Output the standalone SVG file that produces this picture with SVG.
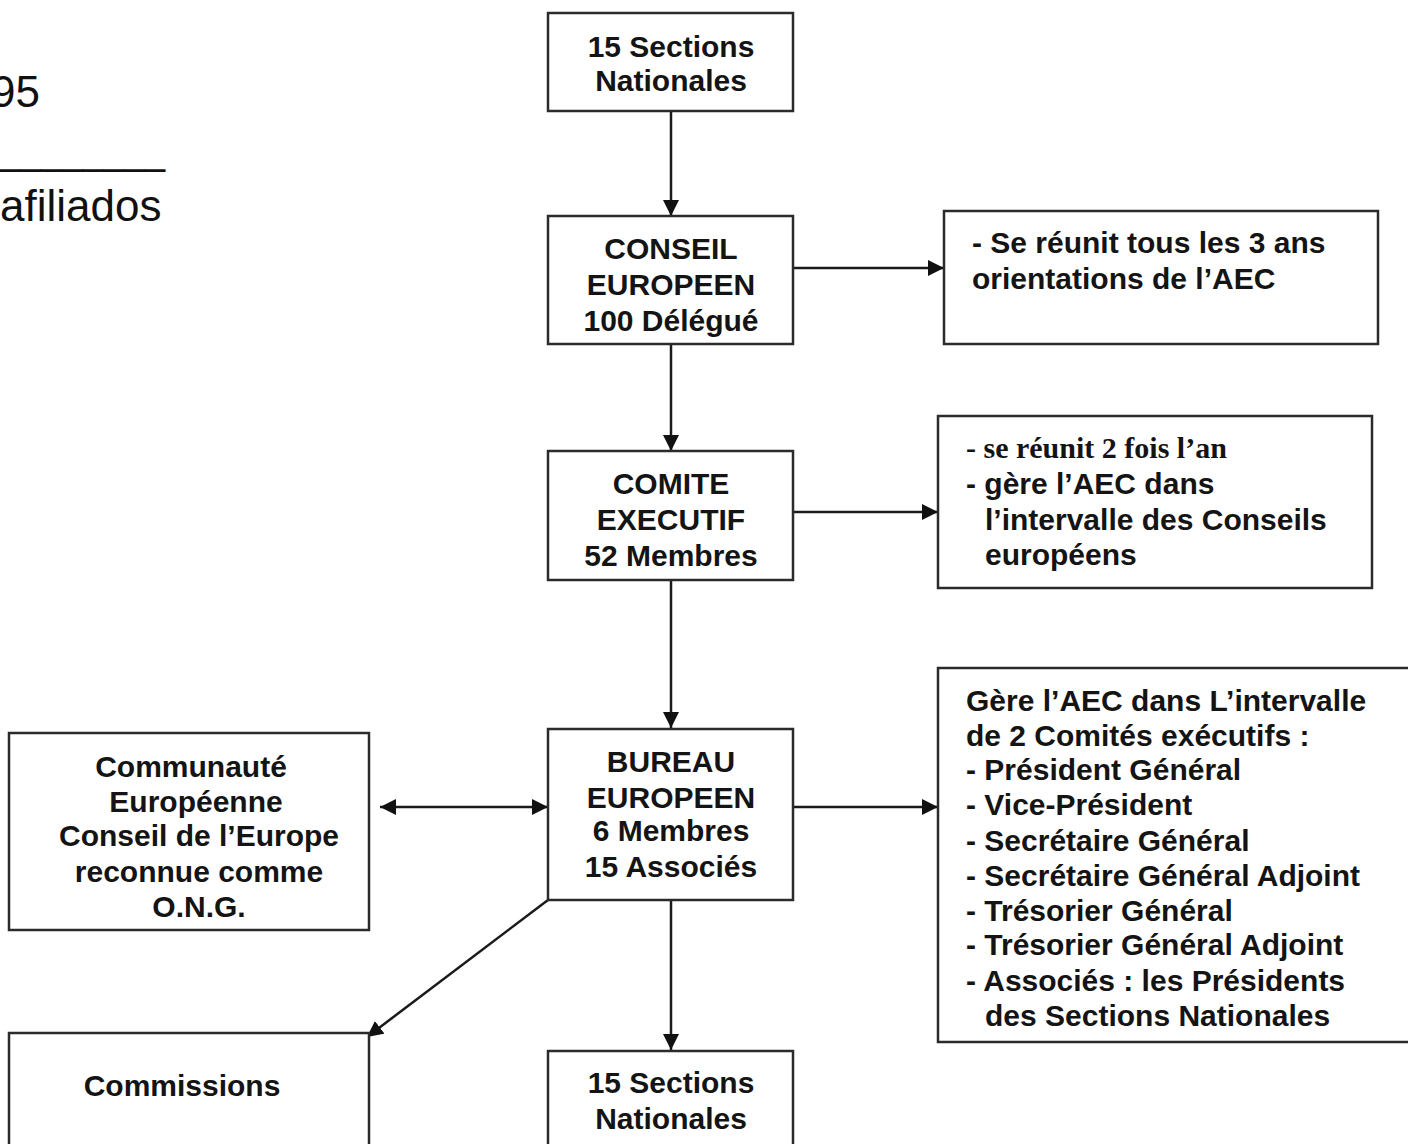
<svg xmlns="http://www.w3.org/2000/svg" width="1408" height="1144" viewBox="0 0 1408 1144">
<defs>
<style>
.box{fill:#fff;stroke:#2b2b2b;stroke-width:2.5}
.t{font-family:"Liberation Sans",Arial,sans-serif;font-weight:bold;font-size:30px;fill:#141414}
.c{text-anchor:middle}
.tr{font-family:"Liberation Serif","Times New Roman",serif;font-weight:bold;font-size:30px;fill:#141414}
.side{font-family:"Liberation Sans",Arial,sans-serif;font-size:44px;fill:#111}
.conn{stroke:#1a1a1a;stroke-width:2.5;fill:none}
</style>
<marker id="ah" viewBox="0 0 16 16" refX="16" refY="8" markerWidth="16" markerHeight="16" markerUnits="userSpaceOnUse" orient="auto-start-reverse">
<path d="M0,0 L16,8 L0,16 Z" fill="#111"/>
</marker>
</defs>
<rect width="1408" height="1144" fill="#fff"/>

<g id="side-text">
<text class="side" x="40" y="107" text-anchor="end" font-size="40">95</text>
<text class="side" x="0" y="163" textLength="165" lengthAdjust="spacingAndGlyphs">________</text>
<text class="side" x="0" y="221">afiliados</text>
</g>

<g id="connectors">
<line class="conn" x1="671" y1="111" x2="671" y2="216" marker-end="url(#ah)"/>
<line class="conn" x1="671" y1="344" x2="671" y2="451" marker-end="url(#ah)"/>
<line class="conn" x1="671" y1="580" x2="671" y2="728" marker-end="url(#ah)"/>
<line class="conn" x1="671" y1="900" x2="671" y2="1050" marker-end="url(#ah)"/>
<line class="conn" x1="793" y1="268" x2="944" y2="268" marker-end="url(#ah)"/>
<line class="conn" x1="793" y1="512" x2="938" y2="512" marker-end="url(#ah)"/>
<line class="conn" x1="793" y1="807" x2="938" y2="807" marker-end="url(#ah)"/>
<line class="conn" x1="380" y1="807" x2="548" y2="807" marker-start="url(#ah)" marker-end="url(#ah)"/>
<line class="conn" x1="548" y1="900" x2="367" y2="1037" marker-end="url(#ah)"/>
</g>

<g id="n-sections-top">
<rect class="box" x="548" y="13" width="245" height="98"/>
<text class="t c" x="671" y="57">15 Sections</text>
<text class="t c" x="671" y="91">Nationales</text>
</g>

<g id="n-conseil">
<rect class="box" x="548" y="216" width="245" height="128"/>
<text class="t c" x="671" y="259">CONSEIL</text>
<text class="t c" x="671" y="295">EUROPEEN</text>
<text class="t c" x="671" y="331">100 Délégué</text>
</g>

<g id="n-conseil-note">
<rect class="box" x="944" y="211" width="434" height="133"/>
<text class="t" x="972" y="253">- Se réunit tous les 3 ans</text>
<text class="t" x="972" y="289">orientations de l’AEC</text>
</g>

<g id="n-comite">
<rect class="box" x="548" y="451" width="245" height="129"/>
<text class="t c" x="671" y="494">COMITE</text>
<text class="t c" x="671" y="530">EXECUTIF</text>
<text class="t c" x="671" y="566">52 Membres</text>
</g>

<g id="n-comite-note">
<rect class="box" x="938" y="416" width="434" height="172"/>
<text class="tr" x="966" y="458">- se réunit 2 fois l’an</text>
<text class="t" x="966" y="494">- gère l’AEC dans</text>
<text class="t" x="985" y="530">l’intervalle des Conseils</text>
<text class="t" x="985" y="565">européens</text>
</g>

<g id="n-bureau">
<rect class="box" x="548" y="729" width="245" height="171"/>
<text class="t c" x="671" y="772">BUREAU</text>
<text class="t c" x="671" y="808">EUROPEEN</text>
<text class="t c" x="671" y="841">6 Membres</text>
<text class="t c" x="671" y="877">15 Associés</text>
</g>

<g id="n-bureau-note">
<rect class="box" x="938" y="668" width="480" height="374"/>
<text class="t" x="966" y="711">Gère l’AEC dans L’intervalle</text>
<text class="t" x="966" y="746">de 2 Comités exécutifs :</text>
<text class="t" x="966" y="780">- Président Général</text>
<text class="t" x="966" y="815">- Vice-Président</text>
<text class="t" x="966" y="851">- Secrétaire Général</text>
<text class="t" x="966" y="886">- Secrétaire Général Adjoint</text>
<text class="t" x="966" y="921">- Trésorier Général</text>
<text class="t" x="966" y="955">- Trésorier Général Adjoint</text>
<text class="t" x="966" y="991">- Associés : les Présidents</text>
<text class="t" x="985" y="1026">des Sections Nationales</text>
</g>

<g id="n-communaute">
<rect class="box" x="9" y="733" width="360" height="197"/>
<text class="t c" x="191" y="777">Communauté</text>
<text class="t c" x="196" y="812">Européenne</text>
<text class="t c" x="199" y="846">Conseil de l’Europe</text>
<text class="t c" x="199" y="882">reconnue comme</text>
<text class="t c" x="199" y="917">O.N.G.</text>
</g>

<g id="n-commissions">
<rect class="box" x="9" y="1033" width="360" height="130"/>
<text class="t c" x="182" y="1096">Commissions</text>
</g>

<g id="n-sections-bottom">
<rect class="box" x="548" y="1051" width="245" height="110"/>
<text class="t c" x="671" y="1093">15 Sections</text>
<text class="t c" x="671" y="1129">Nationales</text>
</g>
</svg>
